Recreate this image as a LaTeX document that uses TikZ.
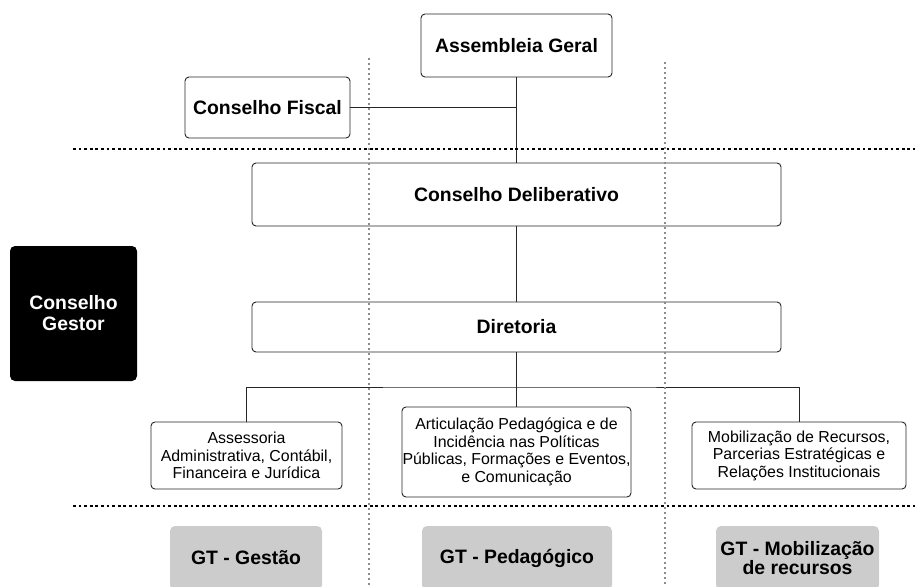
\documentclass[tikz,border=0pt]{standalone}
\usepackage{fontspec}
\setmainfont{Liberation Sans}
\usepackage{tikz}
\tikzset{
    org-box/.style = {draw=black!85, fill=white, line width=0.9pt, rectangle, rounded corners=4pt, inner sep=0pt, align=center, font=\fontsize{19.4}{21}\selectfont\bfseries},
    org-small/.style = {org-box, font=\fontsize{15.9}{17.5}\selectfont},
    gestor-box/.style = {fill=black, text=white, rectangle, rounded corners=5pt, inner sep=0pt, align=center, font=\fontsize{19.4}{21}\selectfont\bfseries},
    gt-box/.style = {fill=black!20, rectangle, rounded corners=5pt, inner sep=0pt, align=center, font=\fontsize{19.4}{19}\selectfont\bfseries},
    link/.style = {draw=black!85, line width=0.8pt},
    sep-line/.style = {line width=2.6pt, dash pattern=on 2.8pt off 2.8pt},
    col-line/.style = {black!45, line width=2.2pt, dash pattern=on 2.4pt off 2.6pt},
}

\begin{document}
\begin{tikzpicture}[x=1pt,y=-1pt]
\useasboundingbox (0,0) rectangle (915,586);
\clip (0,0) rectangle (915,586);
\node [org-box, minimum width=191pt, minimum height=63pt] (assembleia) at (516.5,45.5) {Assembleia Geral};
\node [org-box, minimum width=165pt, minimum height=61pt] (fiscal) at (267.5,107.5) {Conselho Fiscal};
\node [org-box, minimum width=529pt, minimum height=63pt] (deliberativo) at (516.5,194.5) {Conselho Deliberativo};
\node [org-box, minimum width=529pt, minimum height=50pt] (diretoria) at (516.5,327) {Diretoria};
\node [gestor-box, minimum width=127pt, minimum height=135pt] (gestor) at (73.5,313.5) {Conselho\\Gestor};
\node [org-small, minimum width=191pt, minimum height=67pt] (assessoria) at (246.5,455.5) {Assessoria\\Administrativa, Contábil,\\Financeira e Jurídica};
\node [org-small, minimum width=229pt, minimum height=90pt] (articulacao) at (516.5,452) {Articulação Pedagógica e de\\Incidência nas Políticas\\Públicas, Formações e Eventos,\\e Comunicação};
\node [org-small, minimum width=214pt, minimum height=67pt] (mobilizacao) at (799,455.5) {Mobilização de Recursos,\\Parcerias Estratégicas e\\Relações Institucionais};
\node [gt-box, minimum width=152pt, minimum height=64pt] (gt-gestao) at (246,558) {GT - Gestão};
\node [gt-box, minimum width=190pt, minimum height=64pt] (gt-pedagogico) at (517,558) {GT - Pedagógico};
\node [gt-box, minimum width=163pt, minimum height=64pt] (gt-mobilizacao) at (797.5,558) {GT - Mobilização\\de recursos};
\coordinate (fork) at (516.5,387);
\draw [link] (assembleia) -- (deliberativo);
\draw [link] (fiscal.east) -- (fiscal.east -| assembleia.south);
\draw [link] (deliberativo) -- (diretoria);
\draw [link] (diretoria) -- (articulacao);
\draw [link] (assessoria.north) |- (fork) -| (mobilizacao.north);
\draw [col-line] (369,58) -- (369,586);
\draw [col-line] (665,62) -- (665,586);
\draw [sep-line] (73,149) -- (915,149);
\draw [sep-line] (73,506) -- (915,506);
\end{tikzpicture}
\end{document}
